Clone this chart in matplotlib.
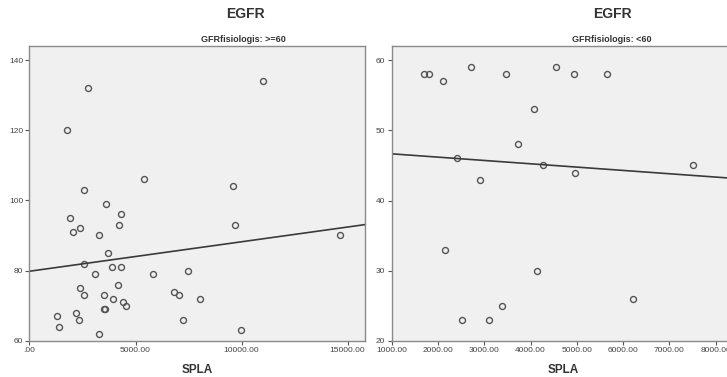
import matplotlib
matplotlib.use("Agg")
import matplotlib.pyplot as plt
from matplotlib.ticker import FuncFormatter
import numpy as np

plt.rcParams['font.family'] = ['Liberation Sans', 'DejaVu Sans']

# ---- data: GFRfisiologis >= 60 ----
spla_hi = [2760, 11010, 1770, 5390, 9590, 2570, 3630, 4330, 1910, 4200, 9680,
           2370, 2040, 3285, 14645, 3700, 2590, 3870, 4310, 3095, 5845, 7475,
           4155, 2385, 6795, 2590, 3490, 7030, 3920, 8025, 4390, 4550, 3490,
           3545, 2180, 1310, 2340, 7250, 1390, 9985, 3255]
egfr_hi = [132, 134, 120, 106, 104, 103, 99, 96, 95, 93, 93,
           92, 91, 90, 90, 85, 82, 81, 81, 79, 79, 80,
           76, 75, 74, 73, 73, 73, 72, 72, 71, 70, 69,
           69, 68, 67, 66, 66, 64, 63, 62]
fit_hi = [79.8, 0.00084]   # intercept, slope

# ---- data: GFRfisiologis < 60 ----
spla_lo = [1700, 1810, 2115, 2715, 3470, 4075, 4550, 4930, 5655, 3720, 2410,
           4275, 4965, 7515, 2900, 2145, 4145, 6220, 3375, 2525, 3100]
egfr_lo = [58, 58, 57, 59, 58, 53, 59, 58, 58, 48, 46,
           45, 44, 45, 43, 33, 30, 26, 25, 23, 23]
fit_lo = [47.14, -0.000474]

xticks_hi = [0, 5000, 10000, 15000]
yticks_hi = [60, 80, 100, 120, 140]
xticks_lo = [1000, 2000, 3000, 4000, 5000, 6000, 7000, 8000]
yticks_lo = [20, 30, 40, 50, 60]

W, H = 727, 377
fig = plt.figure(figsize=(W / 100, H / 100), dpi=100)
fig.patch.set_facecolor('white')


def fmt(v, pos):
    s = f"{v:.2f}"
    if s.startswith("0."):
        s = s[1:]
    return s


def make_ax(rect, xs, ys, fit, xlim, ylim, xt, yt):
    ax = fig.add_axes(rect)
    ax.set_facecolor('#f0f0f0')
    ax.plot(xs, ys, linestyle='none', marker='o', markersize=4.3,
            markerfacecolor='none', markeredgecolor='#555555', markeredgewidth=1.0)
    lx = np.array(xlim, dtype=float)
    ax.plot(lx, fit[0] + fit[1] * lx, color='#3a3a3a', linewidth=1.2)
    ax.set_xlim(xlim)
    ax.set_ylim(ylim)
    ax.set_xticks(xt)
    ax.set_yticks(yt)
    ax.xaxis.set_major_formatter(FuncFormatter(fmt))
    for s in ax.spines.values():
        s.set_color('#8a8a8a')
        s.set_linewidth(1.0)
    ax.tick_params(direction='out', length=3, width=0.8, colors='#555555',
                   labelsize=6, labelcolor='#444444', pad=1.5)
    ax.set_xlabel('SPLA', fontsize=8.5, fontweight='bold', color='#333333', labelpad=7)
    return ax


y0 = (H - 340.7) / H
y1 = (H - 46.0) / H
make_ax([29.5 / W, y0, (365 - 29.5) / W, y1 - y0], spla_hi, egfr_hi, fit_hi,
        (0, 15820), (60, 144), xticks_hi, yticks_hi)
make_ax([391.7 / W, y0, (734 - 391.7) / W, y1 - y0], spla_lo, egfr_lo, fit_lo,
        (1000, 8396), (20, 62.05), xticks_lo, yticks_lo)

fig.text(245 / W, 1 - 14 / H, 'EGFR', ha='center', va='center', fontsize=10,
         fontweight='bold', color='#333333')
fig.text(243 / W, 1 - 39 / H, 'GFRfisiologis: >=60', ha='center', va='center',
         fontsize=6.5, fontweight='bold', color='#333333')
fig.text(612 / W, 1 - 14 / H, 'EGFR', ha='center', va='center', fontsize=10,
         fontweight='bold', color='#333333')
fig.text(612 / W, 1 - 39 / H, 'GFRfisiologis: <60', ha='center', va='center',
         fontsize=6.5, fontweight='bold', color='#333333')

fig.savefig('out.png', dpi=100, facecolor='white')
